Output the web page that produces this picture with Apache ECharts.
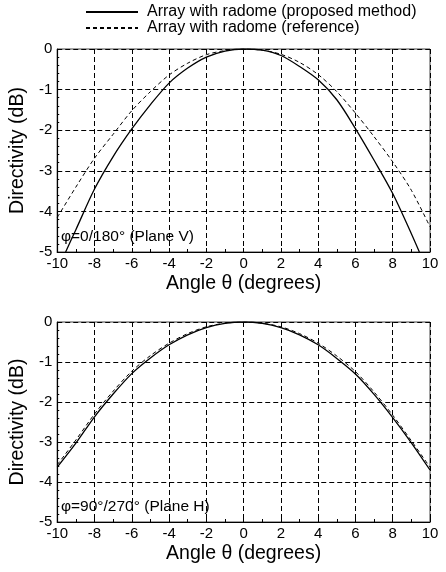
<!DOCTYPE html>
<html>
<head>
<meta charset="utf-8">
<script src="https://cdn.jsdelivr.net/npm/echarts@6/dist/echarts.min.js"></script>
<style>html,body{margin:0;padding:0;background:#fff}#c{width:446px;height:572px}</style>
</head>
<body>
<div id="c"></div>
<script>
// Plane V (top panel)
const vProposedX = [-9.55, -9, -8, -7, -6, -5, -4, -3, -2, -1, 0, 1, 2, 3, 4, 5, 6, 7, 8, 9, 9.43];
const vProposedY = [-5, -4.45, -3.45, -2.65, -1.97, -1.37, -0.84, -0.47, -0.2, -0.05, 0, -0.03, -0.16, -0.43, -0.76, -1.25, -1.96, -2.74, -3.56, -4.55, -5];
const vReferenceX = [-10, -9, -8, -7, -6, -5, -4, -3, -2, -1, 0, 1, 2, 3, 4, 5, 6, 7, 8, 9, 10];
const vReferenceY = [-4.15, -3.4, -2.69, -2.1, -1.52, -1.05, -0.64, -0.35, -0.14, -0.04, 0, -0.03, -0.13, -0.33, -0.63, -1.05, -1.58, -2.16, -2.78, -3.48, -4.38];
// Plane H (bottom panel)
const hX = [-10, -9, -8, -7, -6, -5, -4, -3, -2, -1, 0, 1, 2, 3, 4, 5, 6, 7, 8, 9, 10];
const hProposedY = [-3.63, -3.03, -2.37, -1.8, -1.29, -0.9, -0.57, -0.32, -0.14, -0.035, 0, -0.035, -0.14, -0.32, -0.57, -0.91, -1.3, -1.81, -2.39, -3.02, -3.7];
const hReferenceY = [-3.57, -2.95, -2.3, -1.73, -1.23, -0.84, -0.53, -0.29, -0.12, -0.03, 0, -0.03, -0.12, -0.29, -0.53, -0.85, -1.24, -1.75, -2.33, -2.97, -3.63];
const seriesNames = ['Array with radome (proposed method)', 'Array with radome (reference)'];
const xTitle = 'Angle θ (degrees)';
const yTitle = 'Directivity (dB)';
const panelNotes = ['φ=0/180° (Plane V)', 'φ=90°/270° (Plane H)'];

const zip = (xs, ys) => xs.map((x, i) => [x, ys[i]]);
const FONT = 'Liberation Sans, Arial, sans-serif';
const chart = echarts.init(document.getElementById('c'), null, {renderer: 'canvas'});

function xAx(gi) {
  return {
    gridIndex: gi, type: 'value', min: -10, max: 10, interval: 2,
    name: xTitle, nameLocation: 'middle', nameGap: 22,
    nameTextStyle: {fontFamily: FONT, fontSize: 19.5, color: '#000'},
    axisLine: {show: true, onZero: false, lineStyle: {color: '#000', width: 1.2}},
    axisTick: {show: true, inside: true, length: 4, lineStyle: {color: '#000'}},
    minorTick: {show: true, splitNumber: 2, length: 3, lineStyle: {color: '#000'}},
    axisLabel: {fontFamily: FONT, fontSize: 15, color: '#000', margin: 4},
    splitLine: {show: true, lineStyle: {color: '#000', type: [5, 3], width: 1}}
  };
}
function yAx(gi) {
  return {
    gridIndex: gi, type: 'value', min: -5, max: 0, interval: 1,
    name: yTitle, nameLocation: 'middle', nameGap: 28,
    nameTextStyle: {fontFamily: FONT, fontSize: 19.5, color: '#000'},
    axisLine: {show: true, onZero: false, lineStyle: {color: '#000', width: 1.2}},
    axisTick: {show: true, inside: true, length: 4, lineStyle: {color: '#000'}},
    minorTick: {show: true, splitNumber: 5, length: 2, lineStyle: {color: '#000'}},
    axisLabel: {fontFamily: FONT, fontSize: 15, color: '#000', margin: 5},
    splitLine: {show: true, lineStyle: {color: '#000', type: [5, 3], width: 1}}
  };
}
function ser(name, data, gi, dashed) {
  return {
    name, type: 'line', xAxisIndex: gi, yAxisIndex: gi, data,
    smooth: 0.3, symbol: 'none', clip: true, animation: false,
    lineStyle: {color: '#000', width: dashed ? 1 : 1.3, type: dashed ? [4, 3] : 'solid'},
    itemStyle: {color: '#000'}
  };
}

chart.setOption({
  animation: false,
  grid: [
    {left: 56.5, right: 16, top: 49, height: 203, show: true, borderColor: '#444', borderWidth: 1},
    {left: 56.5, right: 16, top: 322, height: 200, show: true, borderColor: '#444', borderWidth: 1}
  ],
  legend: {
    orient: 'vertical', left: 85, top: 4, padding: 0, itemGap: 0, itemWidth: 52, itemHeight: 16,
    data: seriesNames,
    itemStyle: {opacity: 0},
    textStyle: {fontFamily: FONT, fontSize: 16, color: '#000', padding: [0, 0, 0, 4]},
    selectedMode: false
  },
  xAxis: [xAx(0), xAx(1)],
  yAxis: [yAx(0), yAx(1)],
  series: [
    ser(seriesNames[0], zip(vProposedX, vProposedY), 0, false),
    ser(seriesNames[1], zip(vReferenceX, vReferenceY), 0, true),
    ser(seriesNames[0], zip(hX, hProposedY), 1, false),
    ser(seriesNames[1], zip(hX, hReferenceY), 1, true)
  ],
  graphic: [
    {type: 'text', left: 61, top: 229, style: {text: panelNotes[0], fontFamily: FONT, fontSize: 15.5, fill: '#000'}},
    {type: 'text', left: 61, top: 499, style: {text: panelNotes[1], fontFamily: FONT, fontSize: 15.5, fill: '#000'}}
  ]
});
</script>
</body>
</html>
